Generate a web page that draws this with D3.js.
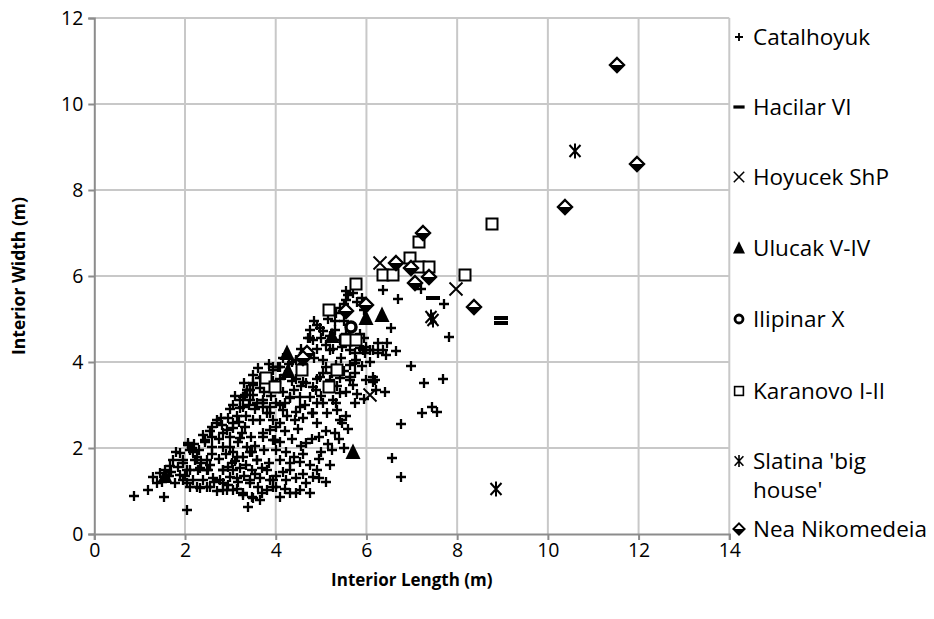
<!DOCTYPE html>
<html><head><meta charset="utf-8">
<script src="https://cdn.jsdelivr.net/npm/d3@7"></script>
<style>body{margin:0;background:#fff}svg{display:block}</style>
</head><body><svg id="c" width="934" height="619"></svg>
<script>
const xTicks=[0,2,4,6,8,10,12,14];
const yTicks=[0,2,4,6,8,10,12];
const xTitle="Interior Length (m)";
const yTitle="Interior Width (m)";
const seriesNames=["Catalhoyuk","Hacilar VI","Hoyucek ShP","Ulucak V-IV","Ilipinar X","Karanovo I-II","Slatina 'big house'","Nea Nikomedeia"];

const catalhoyuk=[
[0.88,0.88],[1.19,1.02],[1.54,0.86],[2.04,0.56],[1.38,1.18],[1.30,1.33],[1.45,1.41],[1.56,1.49],[1.67,1.57],[1.74,1.72],
[1.89,1.88],[2.07,2.11],[2.11,1.95],[2.44,2.19],[2.59,2.03],[2.48,1.72],[2.26,1.80],[1.96,1.64],[2.11,1.49],[2.33,1.53],
[2.48,1.49],[1.89,1.37],[2.04,1.18],[2.26,1.10],[2.48,1.10],[1.78,1.18],[2.07,2.07],[2.18,1.91],[2.44,2.15],[1.96,1.72],
[2.22,1.72],[2.04,1.49],[2.29,1.49],[2.51,1.49],[1.96,1.26],[2.18,1.26],[2.40,1.26],[2.62,1.30],[2.11,1.10],[2.33,1.06],
[2.55,1.10],[2.70,2.65],[2.81,2.53],[2.92,2.42],[3.06,2.57],[3.32,2.50],[2.99,2.26],[3.17,2.15],[3.36,2.03],[2.84,2.03],
[3.06,1.91],[3.47,1.91],[3.28,1.80],[3.58,1.72],[3.03,1.64],[3.21,1.53],[3.47,1.49],[3.69,1.53],[2.84,1.49],[2.77,1.26],
[2.99,1.33],[3.17,1.22],[3.43,1.26],[3.65,1.30],[2.84,1.02],[3.06,1.02],[3.28,0.91],[3.47,0.87],[3.39,0.63],[3.65,0.79],
[3.80,1.02],[3.87,1.26],[4.01,1.10],[4.09,0.87],[4.31,0.95],[4.53,1.02],[4.67,1.18],[4.82,1.33],[4.23,1.26],[4.31,1.49],
[4.09,1.72],[4.31,1.64],[4.53,1.68],[4.23,1.91],[4.09,2.15],[3.98,2.19],[3.72,2.34],[3.87,2.42],[3.65,2.65],[3.80,2.81],
[4.01,2.50],[4.31,3.16],[4.45,2.84],[4.09,3.00],[3.87,2.96],[3.72,3.12],[3.43,3.35],[3.32,3.23],[3.21,2.92],[3.65,3.39],
[4.16,3.31],[4.60,3.54],[4.67,2.11],[4.82,2.81],[4.42,2.65],
[5.70,5.60],[5.55,5.44],[5.41,5.25],[5.33,5.13],[4.97,4.78],[4.75,4.74],[4.71,4.55],[4.82,4.51],[5.11,4.40],[5.19,4.28],
[5.41,4.51],[5.63,4.28],[5.85,4.32],[5.99,4.36],[6.14,4.28],[5.77,4.05],[5.63,3.93],[5.33,3.93],[5.11,3.89],[4.97,3.66],
[5.19,3.58],[5.41,3.62],[5.63,3.66],[5.70,3.47],[4.82,3.43],[4.67,3.50],[4.09,3.89],[3.94,3.81],[3.80,3.66],[3.65,3.62],
[3.50,3.50],[3.36,3.35],[3.28,3.19],[3.43,3.12],[3.58,3.04],[3.72,3.04],[4.31,3.19],[4.53,3.19],[4.75,3.19],[4.89,3.35],
[5.04,3.04],[5.26,3.12],[5.41,3.27],[5.33,3.04],[5.99,3.58],[6.14,3.66],[6.21,3.35],
[5.47,2.58],[5.12,2.81],[4.81,2.81],[4.53,2.95],[5.41,2.65],[5.34,2.88],[4.92,2.58],
[4.80,2.20],[5.00,1.90],[5.20,1.60],[5.40,2.20],[4.60,1.40],[4.90,1.50],[5.10,1.20],[5.50,2.00],[4.95,1.75],[4.75,1.60],
[6.36,5.67],[6.70,5.46],[7.72,5.35],[7.20,5.69],[7.83,4.57],[6.98,3.91],[7.27,3.52],[7.68,3.60],[6.42,3.30],[7.45,2.96],
[7.56,2.84],[7.23,2.81],[6.77,2.55],[6.57,1.77],[6.77,1.33],[6.65,4.26],[6.43,4.16],[6.14,3.54],[6.54,4.78],
[4.92,4.86],[4.75,4.56],[5.05,4.72],[5.26,4.30],[5.47,4.35],[5.74,4.20],[5.96,4.20],[6.25,4.22],[6.07,4.01],[5.75,3.98],
[5.92,4.28],[6.07,4.28],[6.36,4.28],[5.74,3.74],[5.63,3.58],[6.18,3.58],
[3.50,3.70],[3.30,3.50],[3.10,3.20],[3.00,2.90],[2.80,2.70],[2.60,2.50],[2.40,2.30],
[3.36,3.35],[3.50,3.23],[3.72,2.96],[3.87,2.81],[4.01,3.04],[4.16,2.88],[4.09,2.57],[3.72,2.26],[3.94,2.19],[3.43,1.91],
[3.58,1.72],[3.80,1.49],[3.94,1.26],[3.43,1.18],[3.14,1.30],[3.28,0.95],[3.50,0.83],[2.92,1.02],[2.84,1.18],[3.06,1.49],
[3.14,1.80],[2.84,1.49],[2.99,2.03],[2.70,2.57],[2.84,2.34],[3.06,2.46],[3.21,2.23],
[3.50,3.47],[3.94,3.89],[3.72,3.66],[3.21,3.12],[3.28,2.96],[4.05,3.89],
[5.60,5.55],[5.80,5.40],[5.95,5.20],[5.50,4.95],[5.30,4.75],[4.55,4.30],[4.45,4.05],[4.30,3.95],[4.20,3.70],[4.45,3.60],
[2.15,2.00],[2.30,1.95],[2.35,1.65],[2.55,1.60],[2.65,1.20],[2.70,1.00],[2.00,1.35],[1.85,1.55],[1.65,1.35],[1.50,1.20],
[2.60,1.85],[2.75,1.75],[2.90,1.85],[2.95,1.55],[3.10,1.70],[3.35,1.60],[3.30,1.35],[3.55,1.40],[3.60,1.10],[3.70,0.95],
[3.15,1.05],[2.95,1.15],[3.25,2.35],[3.45,2.25],[3.55,2.05],[3.50,2.65],[3.35,2.75],[3.55,2.90],[3.95,2.65],[4.20,2.40],
[4.35,2.20],[4.50,2.45],[4.55,2.05],[4.60,1.85],[4.40,1.80],[4.15,1.45],[4.45,1.30],[4.00,1.35],[3.85,1.65],[3.75,1.95],
[4.00,1.95],[4.25,2.75],[4.60,2.70],[4.65,3.00],[4.90,3.05],[5.00,3.20],[4.40,3.35],[4.55,3.45],[4.35,3.55],[4.90,3.60],
[5.05,3.75],[5.25,3.75],[5.50,3.80],[5.35,3.45],[5.55,3.30],[5.80,3.25],[5.90,3.90],[5.05,4.05],[4.85,4.10],[4.60,3.95],
[4.90,4.30],[5.00,4.55],[5.20,4.60],[5.30,4.95],[5.15,5.00],[4.85,4.95],[5.45,4.10],[5.55,4.65],[5.85,4.65],[5.95,4.55],
[6.25,4.45],[6.45,4.45],[5.55,5.65],[5.50,5.35],[5.90,5.50],[3.60,3.85],[3.85,3.95],[4.15,4.10],[4.35,4.00],[3.95,3.55],
[4.10,3.60],[3.40,3.00],[3.15,2.75],[2.95,2.70],[3.05,3.00],[2.60,2.25],[2.75,2.20],[2.55,2.40],[3.20,2.60],[2.20,2.10],
[1.80,1.90],[1.70,1.45],[3.90,3.20],[4.00,3.40],[4.20,3.05],[3.75,3.30],[3.95,1.10],[4.20,1.05],[4.45,0.95],[4.75,0.95],
[4.95,1.30],[5.25,1.95],[5.30,2.35],[5.10,2.40],[4.95,2.25],[5.15,2.10],[5.60,2.45],[5.55,2.75],[5.75,3.05],[5.95,3.15]
];
const hacilar=[[7.46,5.48],[8.97,5.02],[8.97,4.90]];
const hoyucek=[[6.29,6.30],[7.98,5.70],[6.07,3.23]];
const ulucak=[[1.55,1.35],[4.25,4.20],[4.27,3.80],[5.25,4.60],[6.00,5.02],[6.35,5.10],[5.70,1.91]];
const ilipinar=[[5.66,4.82]];
const karanovo=[[8.77,7.21],[7.16,6.80],[6.96,6.41],[6.36,6.02],[6.58,6.02],[7.16,6.22],[7.37,6.22],[8.18,6.02],[5.78,5.82],
[5.18,5.20],[5.56,4.52],[5.77,4.52],[4.57,3.81],[5.36,3.81],[5.17,3.42],[3.78,3.62],[3.98,3.42]];
const slatina=[[10.59,8.90],[8.86,1.05],[7.42,5.04],[7.47,4.98]];
const neaNikomedeia=[[11.52,10.90],[11.96,8.60],[10.37,7.60],[7.24,6.99],[6.65,6.30],[6.98,6.18],[7.38,5.98],[7.06,5.83],
[8.37,5.29],[6.00,5.33],[5.56,5.18],[4.68,4.20],[4.60,4.10]];

const series=[
 {name:seriesNames[0],data:catalhoyuk,type:"plus"},
 {name:seriesNames[1],data:hacilar,type:"dash"},
 {name:seriesNames[2],data:hoyucek,type:"cross"},
 {name:seriesNames[3],data:ulucak,type:"triangle"},
 {name:seriesNames[4],data:ilipinar,type:"circle"},
 {name:seriesNames[5],data:karanovo,type:"square"},
 {name:seriesNames[6],data:slatina,type:"asterisk"},
 {name:seriesNames[7],data:neaNikomedeia,type:"diamond"}
];

const svg=d3.select("#c");
const FONT="'Open Sans', sans-serif";
const x=d3.scaleLinear().domain([0,14]).range([94.3,729.3]);
const y=d3.scaleLinear().domain([0,12]).range([534,18]);
const GRID="#c8c8c8", AX="#8c8c8c";

svg.append("g").selectAll("line").data(xTicks.filter(d=>d>0)).join("line")
 .attr("x1",d=>x(d)).attr("x2",d=>x(d)).attr("y1",y(0)).attr("y2",y(12))
 .attr("stroke",GRID).attr("stroke-width",2);
svg.append("g").selectAll("line").data(yTicks.filter(d=>d>0)).join("line")
 .attr("x1",x(0)).attr("x2",x(14)).attr("y1",d=>y(d)).attr("y2",d=>y(d))
 .attr("stroke",GRID).attr("stroke-width",2);

const xa=svg.append("g").attr("transform",`translate(0,${y(0)})`)
 .call(d3.axisBottom(x).tickValues(xTicks).tickSize(6).tickPadding(3).tickFormat(d3.format("d")));
const ya=svg.append("g").attr("transform",`translate(${x(0)},0)`)
 .call(d3.axisLeft(y).tickValues(yTicks).tickSize(6).tickPadding(5).tickFormat(d3.format("d")));
[xa,ya].forEach(a=>{
 a.select(".domain").attr("stroke",AX).attr("stroke-width",2);
 a.selectAll(".tick line").attr("stroke",AX).attr("stroke-width",2);
 a.selectAll(".tick text").attr("fill","#000").style("font-family",FONT).style("font-size","19.5px");
});

svg.append("text").attr("x",(x(0)+x(14))/2).attr("y",586).attr("text-anchor","middle")
 .style("font-family",FONT).style("font-size","17px").style("font-weight","bold").text(xTitle);
svg.append("text").attr("transform",`translate(25,${(y(0)+y(12))/2}) rotate(-90)`).attr("text-anchor","middle")
 .style("font-family",FONT).style("font-size","17.5px").style("font-weight","bold").text(yTitle);

function marker(g,type){
 if(type==="plus") g.append("path").attr("d","M-5,0H5M0,-5V5").attr("stroke","#000").attr("stroke-width",2.3).attr("fill","none");
 else if(type==="dash") g.append("rect").attr("x",-7).attr("y",-2).attr("width",14).attr("height",4).attr("fill","#000");
 else if(type==="cross") g.append("path").attr("d","M-6.5,-6.5L6.5,6.5M-6.5,6.5L6.5,-6.5").attr("stroke","#000").attr("stroke-width",1.9).attr("fill","none");
 else if(type==="triangle") g.append("path").attr("d","M0,-8.5L7.5,7L-7.5,7Z").attr("fill","#000");
 else if(type==="circle") g.append("circle").attr("r",5).attr("fill","#fff").attr("stroke","#000").attr("stroke-width",3.5);
 else if(type==="square") g.append("rect").attr("x",-5.5).attr("y",-5.5).attr("width",11).attr("height",11).attr("fill","#fff").attr("stroke","#000").attr("stroke-width",2);
 else if(type==="asterisk") g.append("path").attr("d","M-5.5,-6L5.5,6M-5.5,6L5.5,-6M0,-7.5V7.5").attr("stroke","#000").attr("stroke-width",2).attr("fill","none");
 else if(type==="diamond"){
  g.append("path").attr("d","M0,-7L7,0L0,7L-7,0Z").attr("fill","#fff").attr("stroke","#000").attr("stroke-width",2.4);
  g.append("path").attr("d","M-7,0L7,0L0,7Z").attr("fill","#000");
 }
}

series.forEach(s=>{
 const g=svg.append("g");
 g.selectAll("g").data(s.data).join("g")
  .attr("transform",d=>`translate(${Math.round(x(d[0]))},${Math.round(y(d[1]))})`)
  .each(function(){marker(d3.select(this),s.type);});
});

const legY=[37,107,177,248,319,391,461,529];
series.forEach((s,i)=>{
 const g=svg.append("g").attr("transform",`translate(739,${legY[i]})`);
 const m=g.append("g").attr("transform","scale(0.8)");
 marker(m,s.type);
 const t=g.append("text").attr("x",14).attr("y",8).style("font-family",FONT).style("font-size","22.5px").attr("fill","#000");
 if(s.name.startsWith("Slatina")){
  t.append("tspan").attr("x",14).attr("y",8).text("Slatina 'big");
  t.append("tspan").attr("x",14).attr("y",37).text("house'");
 } else t.text(s.name);
});
</script></body></html>
